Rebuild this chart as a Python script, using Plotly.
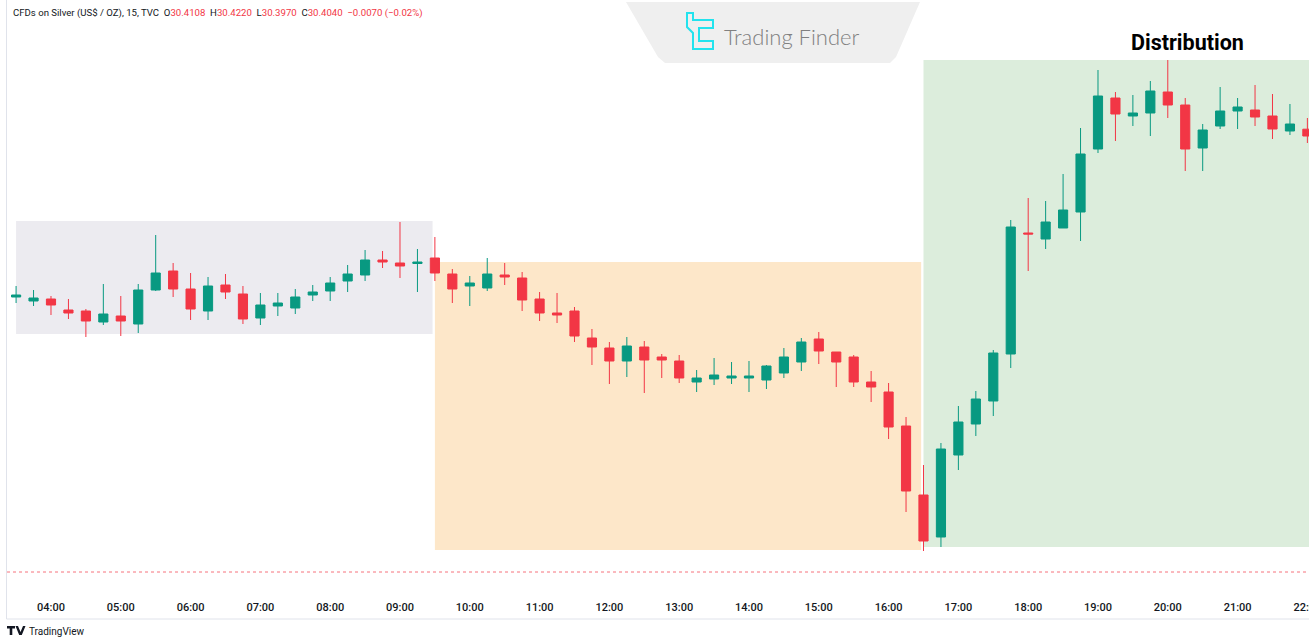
import plotly.graph_objects as go
import pandas as pd

# ---------------- data ----------------
start_time = "2024-06-10 03:30"
times = pd.date_range(start_time, periods=75, freq="15min")

opens = [30.243, 30.239, 30.241, 30.230, 30.229, 30.218, 30.224, 30.216, 30.250, 30.269,
         30.251, 30.229, 30.255, 30.246, 30.222, 30.234, 30.232, 30.245, 30.249, 30.259,
         30.265, 30.280, 30.277, 30.2765, 30.282, 30.266, 30.254, 30.252, 30.265, 30.262,
         30.241, 30.227, 30.229, 30.202, 30.192, 30.179, 30.193, 30.183, 30.179, 30.158,
         30.161, 30.162, 30.162, 30.160, 30.167, 30.178, 30.201, 30.188, 30.183, 30.158,
         30.148, 30.114, 30.045, 30.003, 30.085, 30.116, 30.139, 30.186, 30.307, 30.301,
         30.312, 30.328, 30.391, 30.442, 30.424, 30.427, 30.448, 30.435, 30.392, 30.414,
         30.429, 30.430, 30.424, 30.409, 30.4108]
highs = [30.254, 30.250, 30.244, 30.241, 30.231, 30.256, 30.244, 30.256, 30.305, 30.277,
         30.267, 30.263, 30.266, 30.254, 30.247, 30.247, 30.251, 30.255, 30.263, 30.275,
         30.290, 30.289, 30.318, 30.291, 30.303, 30.271, 30.264, 30.282, 30.277, 30.268,
         30.248, 30.247, 30.233, 30.211, 30.198, 30.203, 30.199, 30.186, 30.185, 30.170,
         30.182, 30.178, 30.179, 30.175, 30.192, 30.202, 30.208, 30.188, 30.185, 30.169,
         30.157, 30.123, 30.075, 30.097, 30.134, 30.149, 30.190, 30.320, 30.342, 30.339,
         30.366, 30.412, 30.470, 30.448, 30.445, 30.459, 30.480, 30.442, 30.416, 30.453,
         30.442, 30.455, 30.446, 30.436, 30.4220]
lows = [30.237, 30.234, 30.225, 30.221, 30.203, 30.215, 30.204, 30.207, 30.249, 30.243,
        30.220, 30.220, 30.241, 30.216, 30.215, 30.224, 30.226, 30.239, 30.239, 30.248,
        30.259, 30.272, 30.262, 30.248, 30.259, 30.237, 30.234, 30.249, 30.255, 30.229,
        30.219, 30.217, 30.198, 30.175, 30.156, 30.163, 30.147, 30.162, 30.157, 30.148,
        30.155, 30.156, 30.148, 30.151, 30.162, 30.169, 30.176, 30.153, 30.153, 30.138,
        30.101, 30.028, 29.989, 29.993, 30.070, 30.104, 30.124, 30.172, 30.269, 30.291,
        30.312, 30.299, 30.387, 30.399, 30.414, 30.404, 30.422, 30.369, 30.369, 30.411,
        30.411, 30.414, 30.401, 30.405, 30.3970]
closes = [30.245, 30.242, 30.235, 30.227, 30.219, 30.226, 30.219, 30.250, 30.267, 30.251,
          30.231, 30.254, 30.248, 30.221, 30.235, 30.237, 30.243, 30.248, 30.257, 30.266,
          30.280, 30.278, 30.274, 30.278, 30.267, 30.251, 30.257, 30.266, 30.263, 30.240,
          30.227, 30.225, 30.204, 30.193, 30.179, 30.194, 30.180, 30.180, 30.162, 30.162,
          30.165, 30.164, 30.164, 30.174, 30.183, 30.198, 30.189, 30.178, 30.158, 30.153,
          30.113, 30.049, 29.999, 30.091, 30.118, 30.141, 30.187, 30.313, 30.306, 30.318,
          30.330, 30.386, 30.444, 30.426, 30.427, 30.449, 30.435, 30.391, 30.410, 30.429,
          30.433, 30.423, 30.411, 30.416, 30.4040]

tick_labels = ["04:00", "05:00", "06:00", "07:00", "08:00", "09:00", "10:00", "11:00",
               "12:00", "13:00", "14:00", "15:00", "16:00", "17:00", "18:00", "19:00",
               "20:00", "21:00", "22:00"]

zone_start = ["2024-06-10 03:30", "2024-06-10 09:30", "2024-06-10 16:30"]
zone_end = ["2024-06-10 09:28", "2024-06-10 16:28", "2024-06-10 22:15"]
zone_top = [30.319, 30.278, 30.480]
zone_bottom = [30.206, 29.990, 29.993]
zone_colors = ["#ECEBF0", "#FDE7C9", "#DCEDDC"]

header_name = "CFDs on Silver (US$ / OZ), 15, TVC"
header_vals = [("O", "30.4108"), ("H", "30.4220"), ("L", "30.3970"), ("C", "30.4040")]
header_change = "\u22120.0070 (\u22120.02%)"
dotted_level = 29.968

# ---------------- layout geometry ----------------
W, H = 1309, 639
ML, MB = 7, 43
PW, PH = W - ML, H - MB
GREEN = "#089981"
RED = "#F23645"


def px(x):
    return (x - ML) / PW


def py(y):
    return 1 - y / PH


fig = go.Figure()
fig.add_trace(go.Candlestick(
    x=times, open=opens, high=highs, low=lows, close=closes,
    increasing=dict(line=dict(color=GREEN, width=1), fillcolor=GREEN),
    decreasing=dict(line=dict(color=RED, width=1), fillcolor=RED),
    whiskerwidth=0, hoverinfo="skip", showlegend=False,
))

shapes = []
for s, e, t, b, c in zip(zone_start, zone_end, zone_top, zone_bottom, zone_colors):
    shapes.append(dict(type="rect", xref="x", yref="y", x0=s, x1=e, y0=b, y1=t,
                       fillcolor=c, line=dict(width=0), layer="below"))

# red dotted line
shapes.append(dict(type="line", xref="paper", yref="y", x0=0, x1=1,
                   y0=dotted_level, y1=dotted_level,
                   line=dict(color="rgba(242,54,69,0.7)", width=1, dash="dot")))

# pane borders
shapes.append(dict(type="line", xref="paper", yref="paper", x0=px(6.5), x1=px(6.5),
                   y0=py(619), y1=1, line=dict(color="#E0E3EB", width=1)))
shapes.append(dict(type="line", xref="paper", yref="paper", x0=px(6.5), x1=1,
                   y0=py(619), y1=py(619), line=dict(color="#E0E3EB", width=1)))

# watermark trapezoid
wm = [(626, 2), (920, 2), (896, 57), (890, 63), (665, 63), (658, 57)]
path = "M " + " L ".join(f"{px(a):.5f},{py(b):.5f}" for a, b in wm) + " Z"
shapes.append(dict(type="path", xref="paper", yref="paper", path=path,
                   fillcolor="#EFEFEF", line=dict(width=0), layer="above"))

# watermark icon
icon = [(687, 13), (693, 13), (693, 20), (713, 20), (713, 28), (699, 28), (699, 41),
        (713, 41), (713, 49), (693, 49), (693, 33), (687, 27)]
path = "M " + " L ".join(f"{px(a):.5f},{py(b):.5f}" for a, b in icon) + " Z"
shapes.append(dict(type="path", xref="paper", yref="paper", path=path,
                   fillcolor="rgba(0,0,0,0)", line=dict(color="#22E3EE", width=2),
                   layer="above"))

# TradingView small logo
tv = [(7, 626), (15, 626), (15, 628.5), (12.3, 628.5), (12.3, 635), (9.7, 635),
      (9.7, 628.5), (7, 628.5)]
path = "M " + " L ".join(f"{px(a):.5f},{py(b):.5f}" for a, b in tv) + " Z"
shapes.append(dict(type="path", xref="paper", yref="paper", path=path,
                   fillcolor="#131722", line=dict(width=0), layer="above"))
tv2 = [(15.5, 626), (18, 626), (20.5, 632), (23, 626), (25.5, 626), (21.8, 635), (19.2, 635)]
path = "M " + " L ".join(f"{px(a):.5f},{py(b):.5f}" for a, b in tv2) + " Z"
shapes.append(dict(type="path", xref="paper", yref="paper", path=path,
                   fillcolor="#131722", line=dict(width=0), layer="above"))

header = header_name + "\u00a0\u00a0" + "\u00a0\u00a0".join(
    f"{k}<span style='color:{RED}'>{v}</span>" for k, v in header_vals
) + f"\u00a0\u00a0<span style='color:{RED}'>{header_change}</span>"

annotations = [
    dict(text=header, xref="paper", yref="paper", x=px(11), y=py(13),
         xanchor="left", yanchor="middle", showarrow=False,
         font=dict(family="Roboto", size=9.6, color="#131722")),
    dict(text="Trading Finder", xref="paper", yref="paper", x=px(722), y=py(36),
         xanchor="left", yanchor="middle", showarrow=False,
         font=dict(family="Lato", size=22, color="#808080", weight=300)),
    dict(text="Distribution", xref="x", yref="y", x="2024-06-10 20:17", y=30.498,
         xanchor="center", yanchor="middle", showarrow=False,
         font=dict(family="Roboto", size=21.5, color="#000000", weight="bold")),
    dict(text="TradingView", xref="paper", yref="paper", x=px(27), y=py(631),
         xanchor="left", yanchor="middle", showarrow=False,
         font=dict(family="Roboto", size=10, color="#131722")),
]

tickvals = [pd.Timestamp("2024-06-10 " + t) for t in tick_labels]

fig.update_layout(
    width=W, height=H,
    margin=dict(l=ML, r=0, t=0, b=MB, autoexpand=False),
    paper_bgcolor="white", plot_bgcolor="white",
    boxgap=0.25,
    shapes=shapes, annotations=annotations,
    showlegend=False,
    xaxis=dict(
        range=["2024-06-10 03:22:11", "2024-06-10 22:01:23"],
        rangeslider=dict(visible=False),
        tickvals=tickvals, ticktext=tick_labels,
        showgrid=False, zeroline=False, showline=False, ticks="",
        ticklabeloverflow="allow", ticklabelstandoff=3, automargin=False,
        tickfont=dict(family="Roboto", size=11, color="#131722", weight=500),
        fixedrange=True,
    ),
    yaxis=dict(
        range=[29.944, 30.540], visible=False, showgrid=False, fixedrange=True,
    ),
)

fig.write_html(
    "out.html",
    config={"displayModeBar": False},
    post_script="document.body.style.margin='0';document.body.style.overflow='hidden';",
)
